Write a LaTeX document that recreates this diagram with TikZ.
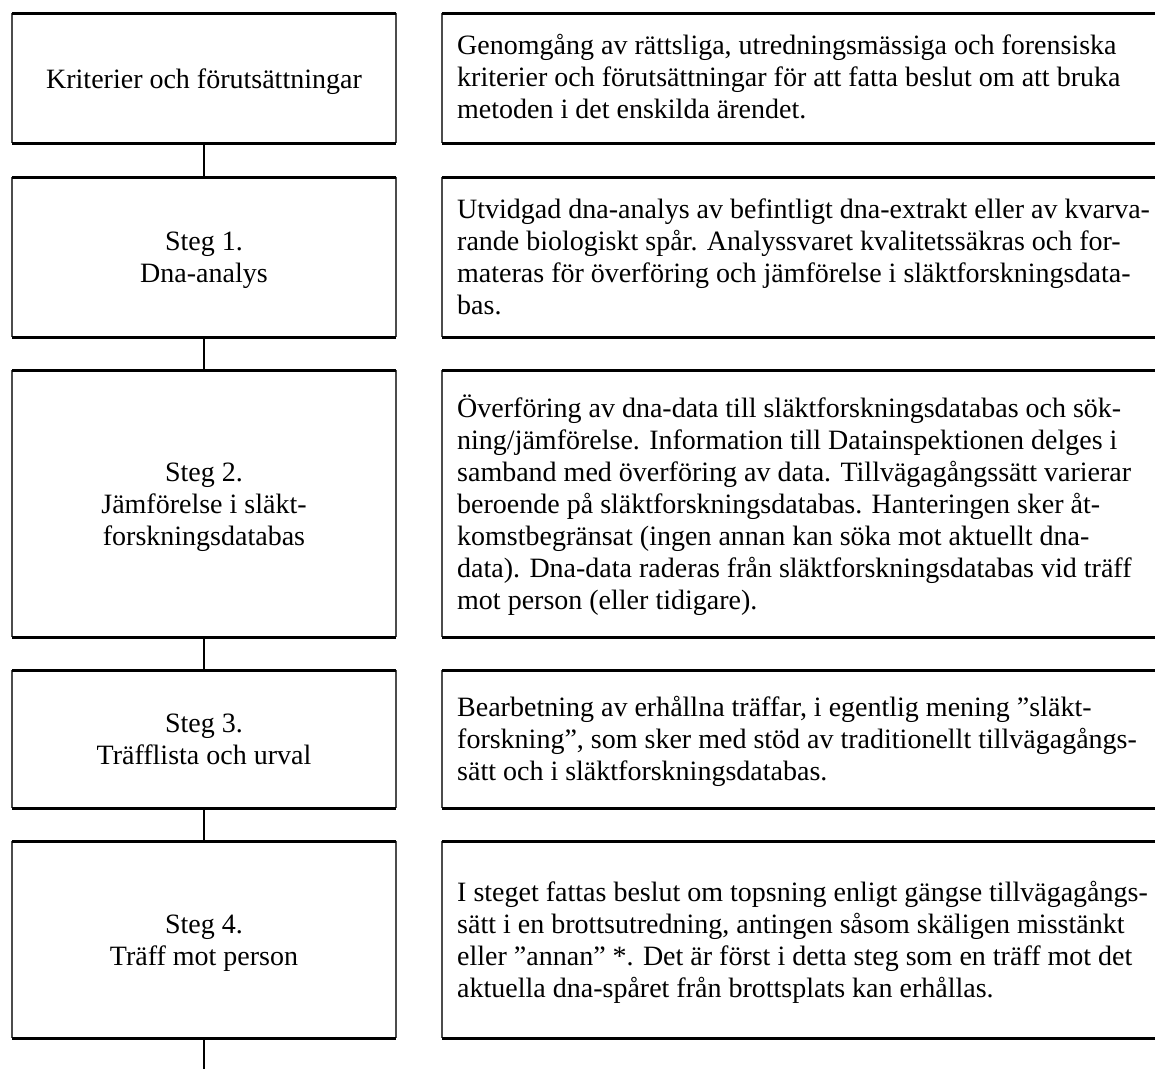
\documentclass[tikz,border=0pt]{standalone}
\usepackage{fontspec}
\setmainfont{Liberation Serif}
\begin{document}
\begin{tikzpicture}[x=1pt,y=-1pt,
  lbox/.style={draw=none,inner sep=0pt,outer sep=0pt,minimum width=384pt,anchor=north west},
  rbox/.style={draw=none,inner sep=0pt,outer sep=0pt,minimum width=713pt,anchor=north west},
  hline/.style={line width=3pt,line cap=butt},
  vline/.style={line width=1.3pt,draw=black!70},
  conn/.style={line width=2pt},
  ltext/.style={inner sep=0pt,anchor=base,font=\fontsize{28pt}{32pt}\selectfont},
  rtext/.style={inner sep=0pt,anchor=base west,font=\fontsize{28pt}{32pt}\selectfont}]
\useasboundingbox (0,0) rectangle (1155,1069);

% left boxes
\node[lbox,minimum height=130pt] (L0) at (12,13) {};
\node[lbox,minimum height=160pt] (L1) at (12,177) {};
\node[lbox,minimum height=267pt] (L2) at (12,370) {};
\node[lbox,minimum height=138pt] (L3) at (12,670) {};
\node[lbox,minimum height=197pt] (L4) at (12,841) {};
% right boxes
\node[rbox,minimum height=130pt] (R0) at (442,13) {};
\node[rbox,minimum height=160pt] (R1) at (442,177) {};
\node[rbox,minimum height=267pt] (R2) at (442,370) {};
\node[rbox,minimum height=138pt] (R3) at (442,670) {};
\node[rbox,minimum height=197pt] (R4) at (442,841) {};

\foreach \b in {L0,L1,L2,L3,L4}{
  \draw[vline] (\b.north west) -- (\b.south west);
  \draw[vline] (\b.north east) -- (\b.south east);
  \draw[hline] (\b.north west) -- (\b.north east);
  \draw[hline] (\b.south west) -- (\b.south east);
}
\foreach \b in {R0,R1,R2,R3,R4}{
  \draw[vline] (\b.north west) -- (\b.south west);
  \draw[hline] (\b.north west) -- (\b.north east);
  \draw[hline] (\b.south west) -- (\b.south east);
}

% connectors
\coordinate (end) at (204,1069);
\draw[conn] (L0.south) -- (L1.north);
\draw[conn] (L1.south) -- (L2.north);
\draw[conn] (L2.south) -- (L3.north);
\draw[conn] (L3.south) -- (L4.north);
\draw[conn] (L4.south) -- (end);

% left texts
\node[ltext] (S0) at (204,88) {\parbox[t]{380pt}{\centering Kriterier och förutsättningar}};
\node[ltext] (S1) at (204,250) {\parbox[t]{380pt}{\centering Steg 1.\\Dna-analys}};
\node[ltext] (S2) at (204,481) {\parbox[t]{380pt}{\centering Steg 2.\\Jämförelse i släkt-\\forskningsdatabas}};
\node[ltext] (S3) at (204,732) {\parbox[t]{380pt}{\centering Steg 3.\\Träfflista och urval}};
\node[ltext] (S4) at (204,933) {\parbox[t]{380pt}{\centering Steg 4.\\Träff mot person}};

% right texts
\node[rtext] (T0) at (457,54) {\parbox[t]{700pt}{\raggedright Genomgång av rättsliga, utredningsmässiga och forensiska\\kriterier och förutsättningar för att fatta beslut om att bruka\\metoden i det enskilda ärendet.}};
\node[rtext] (T1) at (457,218) {\parbox[t]{700pt}{\raggedright Utvidgad dna-analys av befintligt dna-extrakt eller av kvarva-\\rande biologiskt spår. Analyssvaret kvalitetssäkras och for-\\materas för överföring och jämförelse i släktforskningsdata-\\bas.}};
\node[rtext] (T2) at (457,417) {\parbox[t]{700pt}{\raggedright Överföring av dna-data till släktforskningsdatabas och sök-\\ning/jämförelse. Information till Datainspektionen delges i\\samband med överföring av data. Tillvägagångssätt varierar\\beroende på släktforskningsdatabas. Hanteringen sker åt-\\komstbegränsat (ingen annan kan söka mot aktuellt dna-\\data). Dna-data raderas från släktforskningsdatabas vid träff\\mot person (eller tidigare).}};
\node[rtext] (T3) at (457,716) {\parbox[t]{700pt}{\raggedright Bearbetning av erhållna träffar, i egentlig mening ”släkt-\\forskning”, som sker med stöd av traditionellt tillvägagångs-\\sätt och i släktforskningsdatabas.}};
\node[rtext] (T4) at (457,901) {\parbox[t]{700pt}{\raggedright I steget fattas beslut om topsning enligt gängse tillvägagångs-\\sätt i en brottsutredning, antingen såsom skäligen misstänkt\\eller ”annan” *. Det är först i detta steg som en träff mot det\\aktuella dna-spåret från brottsplats kan erhållas.}};
\end{tikzpicture}
\end{document}
